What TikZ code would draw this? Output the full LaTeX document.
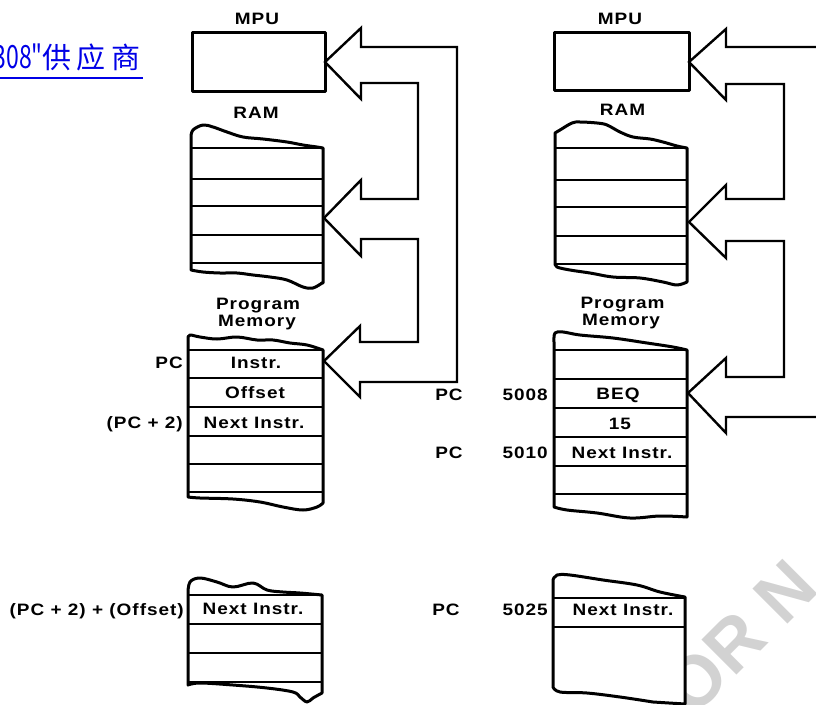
\documentclass[tikz,border=0pt]{standalone}
\usepackage{fontspec}
\setmainfont{Liberation Sans}
\newfontfamily\dia[LetterSpace=6, FakeStretch=1.15]{Liberation Sans Bold}
\newfontfamily\cjk[LetterSpace=20]{Noto Sans CJK SC}
\newfontfamily\cjkdig{Noto Sans CJK SC}
\definecolor{linkblue}{RGB}{0,0,230}
\tikzset{
  box/.style={line width=3pt, line join=round, fill=white},
  rowline/.style={line width=2.7pt},
  bigarrow/.style={line width=2.4pt, line join=miter},
  lbl/.style={inner sep=0pt, text height=11.8pt, text depth=0pt, font=\dia\fontsize{16.5}{19}\selectfont},
}
\begin{document}
\begin{tikzpicture}[x=1pt,y=-1pt]
\useasboundingbox (0,0) rectangle (816,704);

% watermark
\node[rotate=45, text=gray!35, font=\bfseries\fontsize{72}{72}\selectfont, inner sep=0pt] (wm) at (740,637) {OR N};

% link text
\node[anchor=base east, text=linkblue, font=\cjkdig\fontsize{32}{34}\selectfont, inner sep=0pt, xscale=0.72] (linkdig) at (43,68.5) {308"};
\node[anchor=base west, text=linkblue, font=\cjk\fontsize{29}{32}\selectfont, inner sep=0pt] (link) at (42,68.5) {供应商};
\draw[linkblue, line width=2pt] (0,78) -- (143,78);

% ================= LEFT COLUMN =================
\node[lbl] (mpuL) at (257,18.5) {MPU};
\draw[box] (192,32) rectangle (325,91);

\node[lbl] (ramL) at (256,112.5) {RAM};
\draw[box] plot[smooth, tension=0.6] coordinates {(191,137) (193,130) (203,125) (213,127) (227,132) (243,137) (263,139) (287,142) (303,145) (317,147) (323,148)}
  -- (323,283) -- plot[smooth, tension=0.6] coordinates {(322,283) (313,288) (303,287) (287,280) (270,277) (253,275) (237,273) (220,273) (203,272) (191,270)} -- cycle;
\foreach \y in {148,179,206,235,263} \draw[rowline] (191,\y) -- (323,\y);

\node[lbl] (progL) at (258,303.5) {Program};
\node[lbl] (memL) at (257,320.5) {Memory};
\draw[box] plot[smooth, tension=0.6] coordinates {(188,338) (190,335) (200,337) (217,339) (237,337) (257,340) (273,340) (290,343) (307,345) (323,350)}
  -- (323,503) -- plot[smooth, tension=0.6] coordinates {(323,503) (317,507) (303,510) (283,507) (260,502) (233,499) (200,498) (188,497)} -- cycle;
\foreach \y in {350,378,407,436,464,492} \draw[rowline] (188,\y) -- (323,\y);
\node[lbl] (instrL) at (256,363) {Instr.};
\node[lbl] (offL) at (255,393) {Offset};
\node[lbl] (nextL) at (254,423) {Next Instr.};
\node[lbl, anchor=east] (pcL1) at (183,363) {PC};
\node[lbl, anchor=east] (pcL2) at (183,423) {(PC + 2)};

\draw[box] plot[smooth, tension=0.6] coordinates {(188,593) (190,582) (200,578) (217,582) (233,587) (253,583) (267,590) (283,592) (300,593) (322,595)}
  -- (322,693) -- plot[smooth, tension=0.6] coordinates {(322,693) (313,698) (307,702) (300,697) (293,692) (267,688) (233,685) (200,683) (188,685)} -- cycle;
\foreach \y in {595,624,653,682} \draw[rowline] (188,\y) -- (322,\y);
\node[lbl] (nextL2) at (253,609) {Next Instr.};
\node[lbl, anchor=east] (pcoff) at (184,610) {(PC + 2) + (Offset)};

\draw[bigarrow] (325,62) -- (361,28) -- (361,47) -- (457,47) -- (457,382) -- (360,382) -- (360,397)
  -- (324,361) -- (360,326) -- (360,342) -- (418,342) -- (418,239) -- (361,239) -- (361,256)
  -- (324,218) -- (361,180) -- (361,199) -- (418,199) -- (418,83) -- (361,83) -- (361,99) -- cycle;

% ================= RIGHT COLUMN =================
\node[lbl] (mpuR) at (620,18.5) {MPU};
\draw[box] (554,32) rectangle (689,90);

\node[lbl] (ramR) at (622.5,110) {RAM};
\draw[box] plot[smooth, tension=0.6] coordinates {(555,133) (560,130) (572,123) (580,122) (597,123) (607,125) (620,132) (633,137) (650,139) (663,142) (677,146) (687,148)}
  -- (687,282) -- plot[smooth, tension=0.6] coordinates {(687,282) (677,285) (663,282) (640,278) (613,277) (590,273) (570,270) (557,267) (555,263)} -- cycle;
\foreach \y in {148,180,207,236,264} \draw[rowline] (555,\y) -- (687,\y);

\node[lbl] (progR) at (622.5,302.5) {Program};
\node[lbl] (memR) at (621,320) {Memory};
\draw[box] plot[smooth, tension=0.6] coordinates {(554,342) (555,333) (563,332) (580,335) (613,338) (647,343) (673,347) (687,350)}
  -- (687,517) -- plot[smooth, tension=0.6] coordinates {(687,517) (660,516) (630,518) (597,513) (567,510) (554,507)} -- cycle;
\foreach \y in {350,379,408,437,466,494} \draw[rowline] (554,\y) -- (687,\y);
\node[lbl] (beq) at (618,394) {BEQ};
\node[lbl] (fifteen) at (620,423.5) {15};
\node[lbl] (nextR) at (622,452.5) {Next Instr.};
\node[lbl, anchor=east] (a5008) at (548,395) {5008};
\node[lbl, anchor=east] (a5010) at (548,453) {5010};
\node[lbl] (pcM1) at (449,395) {PC};
\node[lbl] (pcM2) at (449,453) {PC};

\draw[box] plot[smooth, tension=0.6] coordinates {(553,580) (557,575) (570,575) (603,580) (637,585) (660,592) (685,597)}
  -- (685,704) -- (653,702) -- plot[smooth, tension=0.6] coordinates {(653,702) (620,697) (587,693) (560,692) (553,687)} -- cycle;
\foreach \y in {598,627} \draw[rowline] (553,\y) -- (685,\y);
\node[lbl] (nextR2) at (623,609.5) {Next Instr.};
\node[lbl, anchor=east] (a5025) at (548,610) {5025};
\node[lbl] (pcM3) at (446,610) {PC};

\draw[bigarrow] (816,47) -- (726,47) -- (726,29) -- (689,62) -- (726,100) -- (726,84) -- (784,84)
  -- (784,199) -- (726,199) -- (726,185) -- (689,222) -- (726,258) -- (726,241) -- (784,241)
  -- (784,377) -- (726,377) -- (726,358) -- (688,393) -- (726,433) -- (726,417) -- (816,417);
\end{tikzpicture}
\end{document}
